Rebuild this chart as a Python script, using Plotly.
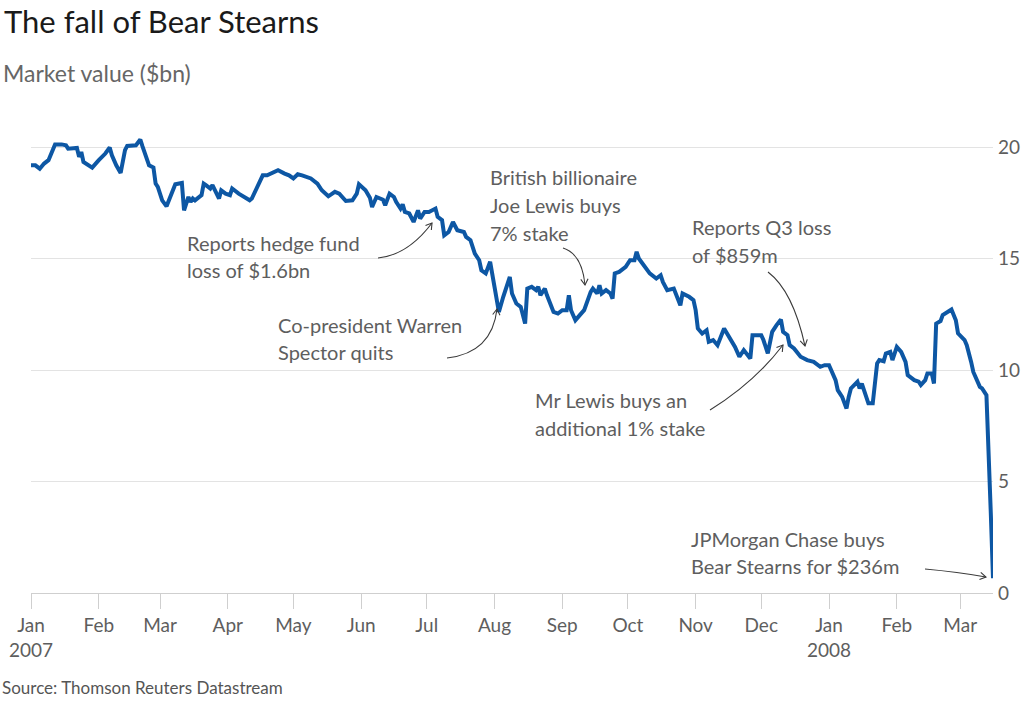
import math
import plotly.graph_objects as go

# ---------------- data ----------------
dates = [
    "2007-01-01", "2007-01-03", "2007-01-05", "2007-01-07", "2007-01-09", "2007-01-11", "2007-01-12",
    "2007-01-15", "2007-01-17", "2007-01-18", "2007-01-21", "2007-01-22", "2007-01-23", "2007-01-24",
    "2007-01-25", "2007-01-27", "2007-01-29", "2007-02-01", "2007-02-04", "2007-02-06", "2007-02-07",
    "2007-02-09", "2007-02-11", "2007-02-13", "2007-02-14", "2007-02-18", "2007-02-20", "2007-02-21",
    "2007-02-23", "2007-02-24", "2007-02-26", "2007-02-27", "2007-02-28", "2007-03-01", "2007-03-02",
    "2007-03-04", "2007-03-05", "2007-03-06", "2007-03-08", "2007-03-11", "2007-03-12", "2007-03-14",
    "2007-03-15", "2007-03-16", "2007-03-17", "2007-03-20", "2007-03-21", "2007-03-22", "2007-03-24",
    "2007-03-25", "2007-03-28", "2007-03-29", "2007-03-31", "2007-04-02", "2007-04-03", "2007-04-06",
    "2007-04-11", "2007-04-12", "2007-04-15", "2007-04-17", "2007-04-19", "2007-04-22", "2007-04-24",
    "2007-04-27", "2007-04-29", "2007-05-01", "2007-05-03", "2007-05-05", "2007-05-09", "2007-05-12",
    "2007-05-14", "2007-05-17", "2007-05-20", "2007-05-22", "2007-05-25", "2007-05-28", "2007-05-30",
    "2007-05-31", "2007-06-03", "2007-06-05", "2007-06-06", "2007-06-08", "2007-06-11", "2007-06-12",
    "2007-06-14", "2007-06-16", "2007-06-17", "2007-06-19", "2007-06-20", "2007-06-21", "2007-06-23",
    "2007-06-25", "2007-06-27", "2007-06-28", "2007-06-30", "2007-07-02", "2007-07-05", "2007-07-06",
    "2007-07-08", "2007-07-09", "2007-07-11", "2007-07-13", "2007-07-15", "2007-07-18", "2007-07-19",
    "2007-07-21", "2007-07-23", "2007-07-25", "2007-07-26", "2007-07-28", "2007-07-30", "2007-08-01",
    "2007-08-03", "2007-08-05", "2007-08-08", "2007-08-09", "2007-08-11", "2007-08-13", "2007-08-15",
    "2007-08-16", "2007-08-18", "2007-08-20", "2007-08-21", "2007-08-22", "2007-08-24", "2007-08-25",
    "2007-08-28", "2007-08-30", "2007-09-01", "2007-09-03", "2007-09-04", "2007-09-05", "2007-09-07",
    "2007-09-09", "2007-09-11", "2007-09-14", "2007-09-15", "2007-09-17", "2007-09-18", "2007-09-19",
    "2007-09-21", "2007-09-23", "2007-09-24", "2007-09-25", "2007-09-27", "2007-09-30", "2007-10-02",
    "2007-10-04", "2007-10-05", "2007-10-06", "2007-10-08", "2007-10-11", "2007-10-14", "2007-10-16",
    "2007-10-17", "2007-10-19", "2007-10-22", "2007-10-23", "2007-10-25", "2007-10-26", "2007-10-29",
    "2007-10-31", "2007-11-01", "2007-11-02", "2007-11-04", "2007-11-06", "2007-11-07", "2007-11-09",
    "2007-11-11", "2007-11-14", "2007-11-17", "2007-11-19", "2007-11-21", "2007-11-23", "2007-11-26",
    "2007-11-27", "2007-12-01", "2007-12-02", "2007-12-04", "2007-12-06", "2007-12-08", "2007-12-10",
    "2007-12-11", "2007-12-13", "2007-12-14", "2007-12-16", "2007-12-19", "2007-12-22", "2007-12-25",
    "2007-12-28", "2007-12-30", "2008-01-01", "2008-01-04", "2008-01-05", "2008-01-07", "2008-01-09",
    "2008-01-10", "2008-01-11", "2008-01-14", "2008-01-15", "2008-01-16", "2008-01-18", "2008-01-19",
    "2008-01-21", "2008-01-23", "2008-01-24", "2008-01-26", "2008-01-27", "2008-01-29", "2008-01-30",
    "2008-02-01", "2008-02-03", "2008-02-05", "2008-02-06", "2008-02-09", "2008-02-11", "2008-02-12",
    "2008-02-14", "2008-02-15", "2008-02-17", "2008-02-18", "2008-02-19", "2008-02-21", "2008-02-22",
    "2008-02-24", "2008-02-26", "2008-02-28", "2008-02-29", "2008-03-03", "2008-03-04", "2008-03-06",
    "2008-03-07", "2008-03-10", "2008-03-11", "2008-03-13", "2008-03-14", "2008-03-15", "2008-03-16",
]
market_value = [
    19.19, 19.19, 19.04, 19.27, 19.42, 19.87, 20.13,
    20.13, 20.09, 19.94, 19.94, 19.97, 19.57, 19.79,
    19.34, 19.19, 19.09, 19.42, 19.72, 19.99, 19.64,
    19.19, 18.85, 19.87, 20.06, 20.09, 20.35, 20.04,
    19.42, 19.19, 19.09, 18.37, 18.22, 17.92, 17.62,
    17.35, 17.62, 17.92, 18.34, 18.40, 17.17, 17.77,
    17.55, 17.70, 17.62, 17.85, 18.37, 18.30, 18.15,
    18.30, 17.70, 18.07, 17.92, 17.85, 18.15, 17.92,
    17.62, 17.70, 18.37, 18.74, 18.74, 18.85, 18.97,
    18.82, 18.74, 18.60, 18.79, 18.74, 18.60, 18.37,
    18.07, 17.80, 18.00, 17.92, 17.59, 17.62, 17.92,
    18.34, 18.07, 17.74, 17.32, 17.77, 17.65, 17.40,
    17.92, 17.77, 17.55, 17.25, 17.44, 17.10, 17.03,
    16.65, 17.17, 16.80, 17.10, 17.10, 17.25, 16.88,
    16.73, 16.05, 16.20, 16.65, 16.28, 16.20, 15.98,
    15.83, 15.23, 14.93, 14.48, 14.34, 14.86, 13.74,
    12.61, 13.29, 14.18, 13.44, 12.99, 12.84, 12.09,
    13.66, 13.74, 13.59, 13.74, 13.36, 13.66, 13.36,
    12.61, 12.54, 12.69, 12.69, 13.36, 12.69, 12.24,
    12.47, 12.69, 13.51, 13.66, 13.44, 13.81, 13.44,
    13.59, 13.44, 13.21, 14.34, 14.41, 14.63, 14.93,
    14.93, 15.31, 15.01, 14.71, 14.34, 14.11, 14.26,
    13.96, 13.59, 13.66, 13.44, 12.91, 13.44, 13.29,
    13.14, 12.69, 11.87, 11.64, 11.79, 11.27, 11.35,
    11.12, 11.87, 11.42, 11.04, 10.60, 10.90, 10.52,
    11.57, 11.57, 11.35, 10.75, 11.72, 12.02, 12.27,
    11.72, 11.57, 11.12, 10.97, 10.60, 10.45, 10.37,
    10.15, 10.22, 10.22, 9.55, 9.10, 8.80, 8.28,
    8.80, 9.18, 9.48, 9.18, 9.40, 8.73, 8.51,
    8.51, 10.30, 10.45, 10.40, 10.75, 10.82, 10.45,
    11.04, 10.82, 10.37, 9.78, 9.55, 9.48, 9.33,
    9.55, 9.85, 9.85, 9.40, 12.09, 12.20, 12.47,
    12.61, 12.72, 12.24, 11.65, 11.35, 11.12, 10.37,
    9.92, 9.25, 9.18, 8.88, 6.56, 3.57, 0.66,
]

month_ticks = ["2007-01-01", "2007-02-01", "2007-03-01", "2007-04-01", "2007-05-01", "2007-06-01",
               "2007-07-01", "2007-08-01", "2007-09-01", "2007-10-01", "2007-11-01", "2007-12-01",
               "2008-01-01", "2008-02-01", "2008-03-01"]
month_labels = ["Jan<br>2007", "Feb", "Mar", "Apr", "May", "Jun", "Jul", "Aug", "Sep", "Oct",
                "Nov", "Dec", "Jan<br>2008", "Feb", "Mar"]
y_ticks = [0, 5, 10, 15, 20]

# ---------------- layout geometry ----------------
W_FIG, H_FIG = 1024, 703
L, R, T, B = 31, 993, 125, 593
PW, PH = R - L, B - T
FONT = "Lato, 'Open Sans', sans-serif"
BLUE = "#0d57a4"
GREY_TXT = "#5e5e5e"
ARROW = "#3a3a3a"


def px(x):
    return (x - L) / PW


def py(y):
    return (B - y) / PH


def P(x, y):
    return f"{px(x):.5f},{py(y):.5f}"


fig = go.Figure()
fig.add_trace(go.Scatter(x=dates, y=market_value, mode="lines",
                         line=dict(color=BLUE, width=4), hoverinfo="skip", showlegend=False))

annotations = []
shapes = []

# white boxes that interrupt gridlines behind labels
for (x0, y0, x1, y1) in [(167, 228, 377, 285), (675, 212, 831, 268)]:
    shapes.append(dict(type="rect", xref="paper", yref="paper", layer="between",
                       x0=px(x0), x1=px(x1), y0=py(y1), y1=py(y0),
                       fillcolor="white", line=dict(width=0)))

labels = [
    (187, [243, 270], ["Reports hedge fund", "loss of $1.6bn"]),
    (278, [325, 352], ["Co-president Warren", "Spector quits"]),
    (490, [177, 205, 233], ["British billionaire", "Joe Lewis buys", "7% stake"]),
    (692, [227, 255], ["Reports Q3 loss", "of $859m"]),
    (535, [400, 428], ["Mr Lewis buys an", "additional 1% stake"]),
    (691, [539, 566], ["JPMorgan Chase buys", "Bear Stearns for $236m"]),
]
for x, ys, lines in labels:
    for yy, txt in zip(ys, lines):
        annotations.append(dict(xref="paper", yref="paper", x=px(x - 2), y=py(yy), text=txt,
                                showarrow=False, xanchor="left", yanchor="middle",
                                font=dict(family=FONT, size=20, color=GREY_TXT)))

# curved arrows: start, control, tip (pixels)
arrows = [
    ((378, 258), (408, 255), (432, 223)),
    ((447, 358), (492, 353), (497, 309)),
    ((563, 248), (582, 254), (585, 285)),
    ((768, 272), (793, 291), (805, 346)),
    ((710, 410), (754, 383), (783, 345)),
    ((925, 569), (958, 572), (986, 577)),
]
for (s, c, t) in arrows:
    shapes.append(dict(type="path", xref="paper", yref="paper", layer="above",
                       path=f"M {P(*s)} Q {P(*c)} {P(*t)}",
                       line=dict(color=ARROW, width=1.1)))
    dx, dy = t[0] - c[0], t[1] - c[1]
    ang = math.atan2(dy, dx)
    hl = 7
    a1 = (t[0] - hl * math.cos(ang - 0.55), t[1] - hl * math.sin(ang - 0.55))
    a2 = (t[0] - hl * math.cos(ang + 0.55), t[1] - hl * math.sin(ang + 0.55))
    shapes.append(dict(type="path", xref="paper", yref="paper", layer="above",
                       path=f"M {P(*a1)} L {P(*t)} L {P(*a2)}",
                       line=dict(color=ARROW, width=1.1)))

# subtitle & source
annotations.append(dict(xref="paper", yref="paper", x=px(1), y=py(73), text="Market value ($bn)",
                        showarrow=False, xanchor="left", yanchor="middle",
                        font=dict(family=FONT, size=23, color="#666666")))
annotations.append(dict(xref="paper", yref="paper", x=px(0), y=py(687),
                        text="Source: Thomson Reuters Datastream",
                        showarrow=False, xanchor="left", yanchor="middle",
                        font=dict(family=FONT, size=17, color="#555555")))

fig.update_layout(
    width=W_FIG, height=H_FIG,
    margin=dict(l=L, r=W_FIG - R, t=T, b=H_FIG - B, pad=0, autoexpand=False),
    paper_bgcolor="white", plot_bgcolor="white",
    title=dict(text="The fall of Bear Stearns", xref="container", yref="container",
               x=4 / W_FIG, y=1 - 22 / H_FIG, xanchor="left", yanchor="middle",
               font=dict(family=FONT, size=31, color="#1a1a1a")),
    xaxis=dict(type="date", range=["2007-01-01", "2008-03-16"], automargin=False,
               tickvals=month_ticks, ticktext=month_labels,
               ticks="outside", ticklen=15, tickcolor="#cfcfcf", tickwidth=1,
               showline=True, linecolor="#cfcfcf", linewidth=1,
               showgrid=False, zeroline=False,
               tickfont=dict(family=FONT, size=19, color=GREY_TXT)),
    yaxis=dict(side="right", range=[0, 21], tickvals=y_ticks, automargin=False,
               showgrid=True, gridcolor="#e3e3e3", gridwidth=1,
               zeroline=False, showline=False, ticks="", ticklabelstandoff=4,
               tickfont=dict(family=FONT, size=19, color=GREY_TXT)),
    annotations=annotations,
    shapes=shapes,
)

fig.write_html("out.html", config={"displayModeBar": False},
               post_script="document.body.style.margin='0px';")
